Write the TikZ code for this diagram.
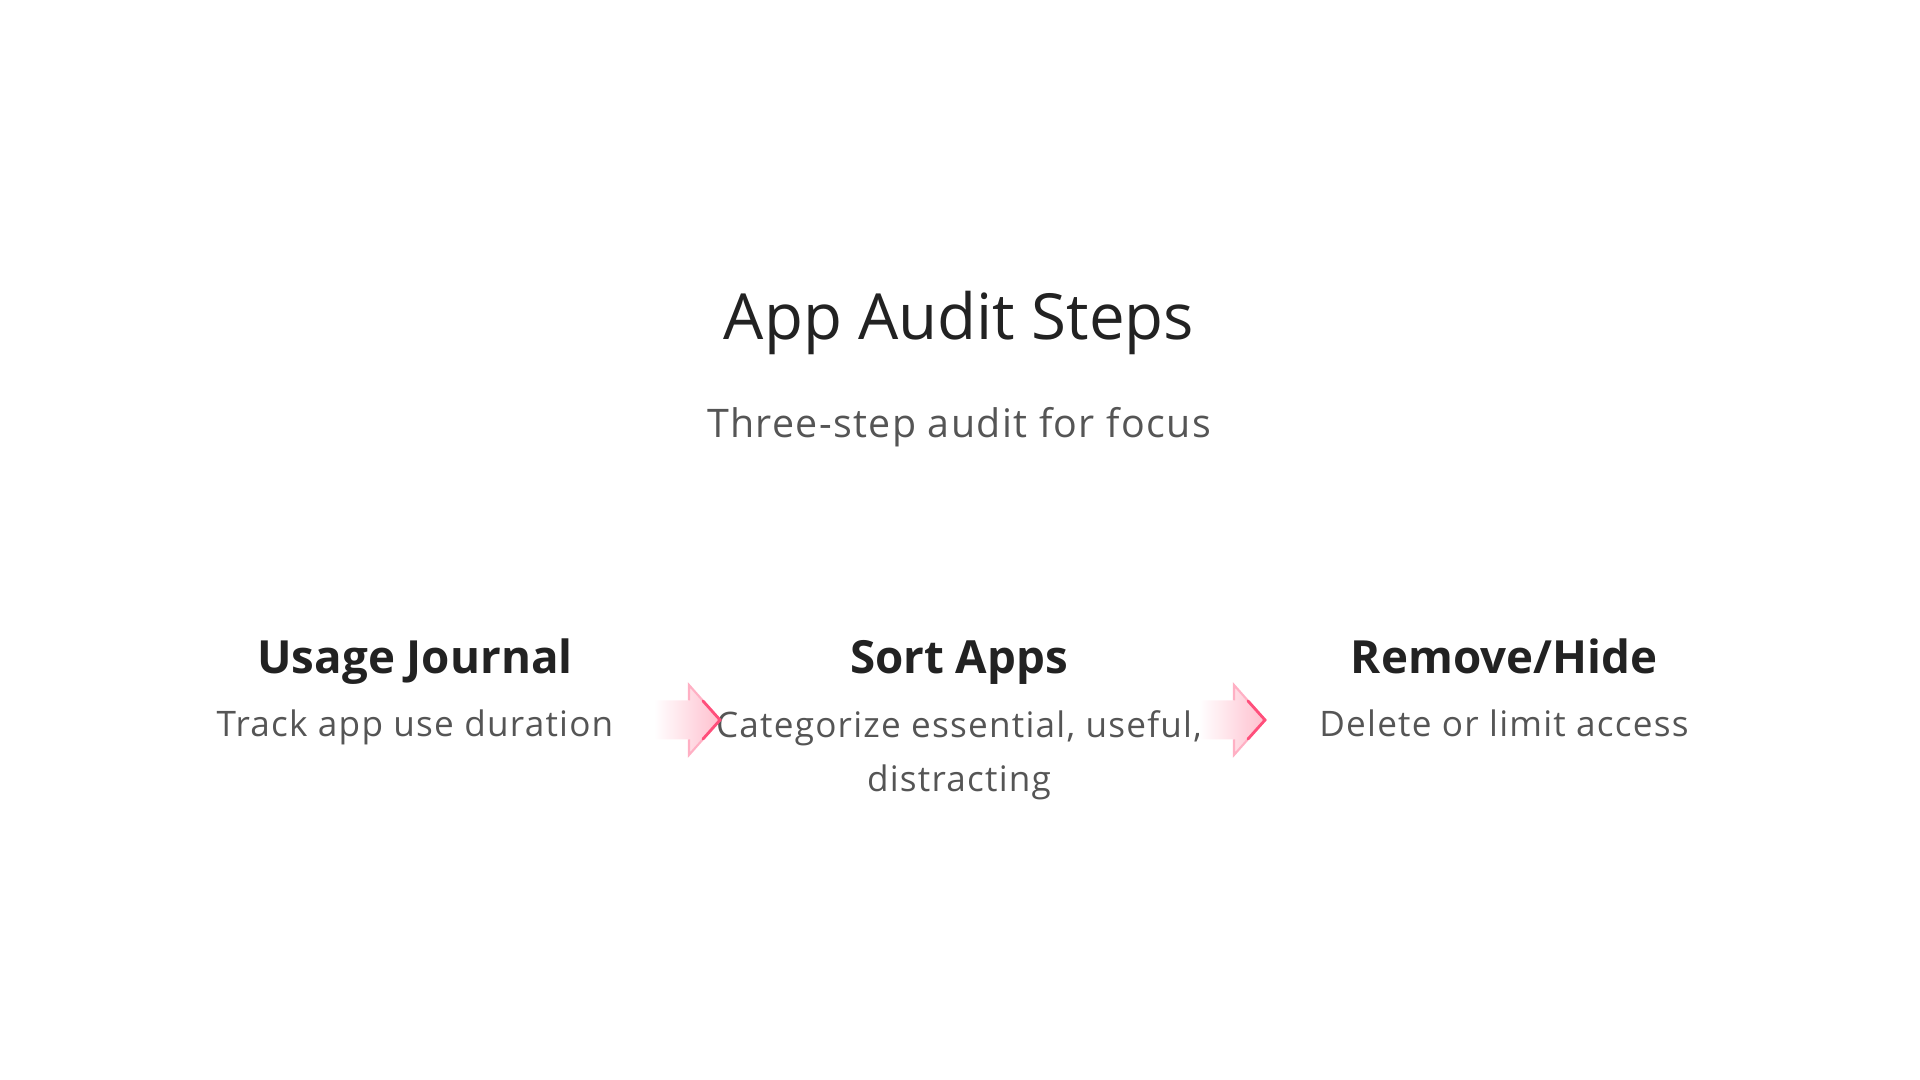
\documentclass[tikz,border=0pt]{standalone}
\usepackage{fontspec}
\setmainfont{Open Sans}
\newfontfamily\spacedfont{Open Sans}[LetterSpace=3.5]
\definecolor{titlegray}{HTML}{222222}
\definecolor{descgray}{HTML}{555555}
\definecolor{arrowpink}{HTML}{FF4F7B}
\definecolor{arrowfill}{HTML}{FFBFCE}
\tikzset{
  titletext/.style={anchor=base,font=\fontsize{18.1}{22}\selectfont,text=titlegray},
  subtext/.style={anchor=base,font=\spacedfont\fontsize{11.2}{14}\selectfont,text=descgray},
  heading/.style={anchor=base,font=\fontsize{13}{15}\selectfont\bfseries,text=titlegray},
  desc/.style={anchor=base,font=\spacedfont\fontsize{10}{15.6}\selectfont,text=descgray,align=center}
}
\begin{document}
\begin{tikzpicture}
\useasboundingbox (0,0) rectangle (19.2,10.8);
\node[titletext] (title) at (9.59,7.40) {App Audit Steps};
\node[subtext] (sub) at (9.59,6.42) {Three-step audit for focus};
\node[heading] (journal) at (4.15,4.06) {Usage Journal};
\node[heading] (sort) at (9.59,4.06) {Sort Apps};
\node[heading] (remove) at (15.04,4.06) {Remove/Hide};
\node[desc] (journaltxt) at (4.15,3.43) {Track app use duration};
\node[desc] (sorttxt) at (9.59,2.88) {Categorize essential, useful,\\distracting};
\node[desc] (removetxt) at (15.04,3.43) {Delete or limit access};
\foreach \ax [count=\i] in {6.87,12.32} {
  \coordinate (arrow\i) at (\ax,3.60);
  \begin{scope}[shift={(arrow\i)}]
    \shade[left color=white,right color=arrowfill] (-0.33,0.195) -- (0.02,0.195) -- (0.02,0.35) -- (0.33,0) -- (0.02,-0.35) -- (0.02,-0.195) -- (-0.33,-0.195) -- cycle;
    \draw[arrowpink!45,line width=0.6pt] (0.02,0.195) -- (0.02,0.35) -- (0.33,0) -- (0.02,-0.35) -- (0.02,-0.195);
    \draw[arrowpink,line width=0.8pt,line cap=round] (0.16,0.19) -- (0.33,0) -- (0.16,-0.19);
  \end{scope}
}
\end{tikzpicture}
\end{document}
